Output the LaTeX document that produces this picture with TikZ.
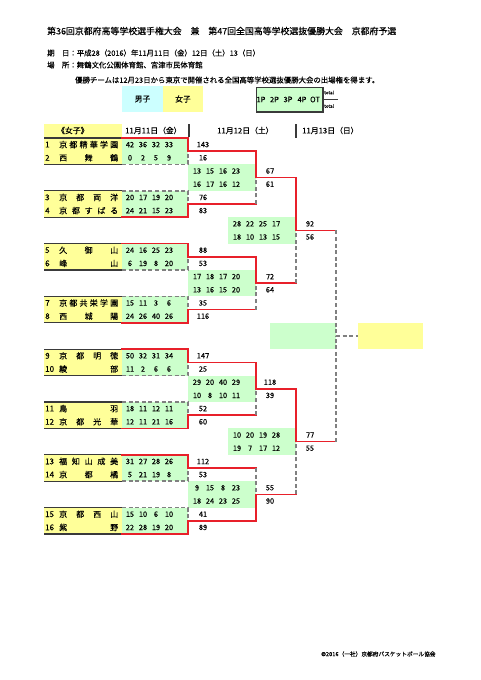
\documentclass[tikz,border=0pt]{standalone}
\usepackage{fontspec}
\setmainfont{Noto Sans CJK JP}[FakeBold=0.2]
\definecolor{ylw}{HTML}{FFFF99}
\definecolor{grn}{HTML}{CCFFCC}
\definecolor{cyn}{HTML}{CCFFFF}
\definecolor{redl}{HTML}{E8202A}
\definecolor{dsh}{HTML}{808080}
\definecolor{dark}{HTML}{3A3A3A}
\tikzset{
 win/.style={draw=redl, line width=1.7pt, line cap=rect},
 lose/.style={draw=dsh, line width=1.5pt, dash pattern=on 4pt off 2.6pt},
 sepl/.style={draw=dark, line width=1.3pt},
 num/.style={inner sep=0pt, font=\fontsize{7.4}{8}\selectfont, anchor=center},
 nm/.style={inner sep=0pt, font=\fontsize{8}{9}\selectfont, anchor=west},
 hd/.style={inner sep=0pt, font=\fontsize{7.4}{9}\selectfont, anchor=west},
 th/.style={inner sep=0pt, font=\fontsize{7.8}{9}\selectfont, anchor=west},
}
\newcounter{nd}
\newcommand\nx{\stepcounter{nd}}
\newcommand\Sc[6]{%
 \nx\node[num] (n\arabic{nd}) at ({#1+9},#2) {#3};
 \nx\node[num] (n\arabic{nd}) at ({#1+22},#2) {#4};
 \nx\node[num] (n\arabic{nd}) at ({#1+35},#2) {#5};
 \nx\node[num] (n\arabic{nd}) at ({#1+48},#2) {#6};}
\newcommand\Tot[3]{\nx\node[num] (n\arabic{nd}) at (#1,#2) {#3};}
\newcommand\Team[3]{%
 \nx\node[nm] (n\arabic{nd}) at (45,#1) {#2};
 \nx\node[nm] (n\arabic{nd}) at (59,#1) {\makebox[59pt][s]{#3}};}
\newcommand\PairBG[1]{%
 \fill[ylw] (44,#1) rectangle (122,{#1+2});
 \fill[grn] (122,#1) rectangle (188,{#1+2});
 \draw[sepl] (44,#1) -- (122,#1) (44,{#1+2}) -- (122,{#1+2});}
\newcommand\TopWin[1]{%
 \draw[lose] (122,{#1+2}) -- (188,{#1+2}) -- (188,{#1+1});
 \draw[win] (122,#1) -- (188,#1) -- (188,{#1+1}) -- (256,{#1+1});}
\newcommand\BotWin[1]{%
 \draw[lose] (122,#1) -- (188,#1) -- (188,{#1+1});
 \draw[win] (122,{#1+2}) -- (188,{#1+2}) -- (188,{#1+1}) -- (256,{#1+1});}
\begin{document}
\begin{tikzpicture}[x=1pt,y=-1pt]
\useasboundingbox[fill=white] (0,0) rectangle (480,680);
% header texts
\node[inner sep=0pt, anchor=west, font=\fontsize{8.9}{10}\selectfont] (title) at (47,31) {第36回京都府高等学校選手権大会　兼　第47回全国高等学校選抜優勝大会　京都府予選};
\node[hd] (date) at (47,53) {期　日：平成28（2016）年11月11日（金）12日（土）13（日）};
\node[hd] (place) at (47,65) {場　所：舞鶴文化公園体育館、宮津市民体育館};
\node[hd] (note) at (75,80) {優勝チームは12月23日から東京で開催される全国高等学校選抜優勝大会の出場権を得ます。};
% legend
\fill[cyn] (122,86) rectangle (163,112);
\fill[ylw] (163,86) rectangle (203,112);
\node[th, anchor=center] (boys) at (142.5,99) {男子};
\node[th, anchor=center] (girls) at (183,99) {女子};
\fill[grn] (256,87) rectangle (323,112);
\draw[dark, line width=0.5pt] (256,112) -- (256,87) -- (323,87);
\draw[dark, line width=1.2pt] (323,87) -- (323,112) -- (256,112);
\node[num] (p1) at (261,99.5) {1P};
\node[num] (p2) at (274.5,99.5) {2P};
\node[num] (p3) at (288,99.5) {3P};
\node[num] (p4) at (302,99.5) {4P};
\node[num] (ot) at (315,99.5) {OT};
\node[inner sep=0pt, font=\fontsize{4.5}{5}\selectfont, anchor=west] (tot1) at (324,92.5) {total};
\node[inner sep=0pt, font=\fontsize{4.5}{5}\selectfont, anchor=west] (tot2) at (324,106) {total};
\draw[dark, line width=0.8pt] (323,99) -- (338,99);
% table header
\fill[ylw] (44,124) rectangle (122,137.5);
\node[th] (girlshd) at (57,130.5) {《女子》};
\node[th] (d1) at (125,130.5) {11月11日（金）};
\node[th] (d2) at (217,130.5) {11月12日（土）};
\node[th] (d3) at (302,130.5) {11月13日（日）};
\draw[sepl] (189,124) -- (189,137);
\draw[sepl] (296,124) -- (296,138);
% footer
\node[inner sep=0pt, anchor=west, font=\fontsize{5.7}{7}\selectfont] (foot) at (321,654) {©2016（一社）京都府バスケットボール協会};
\begin{scope}[y=-13.2pt, yshift=-138pt]
% backgrounds
\PairBG{0}\PairBG{4}\PairBG{8}\PairBG{12}\PairBG{16}\PairBG{20}\PairBG{24}\PairBG{28}
\fill[grn] (188,2) rectangle (256,4);
\fill[grn] (188,10) rectangle (256,12);
\fill[grn] (188,18) rectangle (256,20);
\fill[grn] (188,26) rectangle (256,28);
\fill[grn] (228,6) rectangle (296,8);
\fill[grn] (228,22) rectangle (296,24);
\fill[grn] (270,14) rectangle (336,16);
\fill[ylw] (358,14) rectangle (423,16);
% round 1
\TopWin{0}\BotWin{4}\TopWin{8}\BotWin{12}\TopWin{16}\BotWin{20}\TopWin{24}\BotWin{28}
% round 2
\draw[lose] (256,5) -- (256,3);  \draw[win] (256,1) -- (256,3) -- (296,3);
\draw[lose] (256,13) -- (256,11); \draw[win] (256,9) -- (256,11) -- (296,11);
\draw[lose] (256,21) -- (256,19); \draw[win] (256,17) -- (256,19) -- (296,19);
\draw[lose] (256,25) -- (256,27); \draw[win] (256,29) -- (256,27) -- (296,27);
% round 3
\draw[lose] (296,11) -- (296,7); \draw[win] (296,3) -- (296,7) -- (336,7);
\draw[lose] (296,27) -- (296,23); \draw[win] (296,19) -- (296,23) -- (336,23);
% final
\draw[lose] (336,7) -- (336,15) -- (358,15);
\draw[lose] (336,23) -- (336,15);
% teams
\Team{0.5}{1}{京\hfill 都\hfill 精\hfill 華\hfill 学\hfill 園}
\Team{1.5}{2}{西\hfill 舞\hfill 鶴}
\Team{4.5}{3}{京\hfill 都\hfill 両\hfill 洋}
\Team{5.5}{4}{京\hfill 都\hfill す\hfill ば\hfill る}
\Team{8.5}{5}{久\hfill 御\hfill 山}
\Team{9.5}{6}{峰\hfill 山}
\Team{12.5}{7}{京\hfill 都\hfill 共\hfill 栄\hfill 学\hfill 園}
\Team{13.5}{8}{西\hfill 城\hfill 陽}
\Team{16.5}{9}{京\hfill 都\hfill 明\hfill 徳}
\Team{17.5}{10}{綾\hfill 部}
\Team{20.5}{11}{鳥\hfill 羽}
\Team{21.5}{12}{京\hfill 都\hfill 光\hfill 華}
\Team{24.5}{13}{福\hfill 知\hfill 山\hfill 成\hfill 美}
\Team{25.5}{14}{京\hfill 都\hfill 橘}
\Team{28.5}{15}{京\hfill 都\hfill 西\hfill 山}
\Team{29.5}{16}{紫\hfill 野}
% round 1 scores
\Sc{121}{0.5}{42}{36}{32}{33} \Tot{203}{0.5}{143}
\Sc{121}{1.5}{0}{2}{5}{9} \Tot{203}{1.5}{16}
\Sc{121}{4.5}{20}{17}{19}{20} \Tot{203}{4.5}{76}
\Sc{121}{5.5}{24}{21}{15}{23} \Tot{203}{5.5}{83}
\Sc{121}{8.5}{24}{16}{25}{23} \Tot{203}{8.5}{88}
\Sc{121}{9.5}{6}{19}{8}{20} \Tot{203}{9.5}{53}
\Sc{121}{12.5}{15}{11}{3}{6} \Tot{203}{12.5}{35}
\Sc{121}{13.5}{24}{26}{40}{26} \Tot{203}{13.5}{116}
\Sc{121}{16.5}{50}{32}{31}{34} \Tot{203}{16.5}{147}
\Sc{121}{17.5}{11}{2}{6}{6} \Tot{203}{17.5}{25}
\Sc{121}{20.5}{18}{11}{12}{11} \Tot{203}{20.5}{52}
\Sc{121}{21.5}{12}{11}{21}{16} \Tot{203}{21.5}{60}
\Sc{121}{24.5}{31}{27}{28}{26} \Tot{203}{24.5}{112}
\Sc{121}{25.5}{5}{21}{19}{8} \Tot{203}{25.5}{53}
\Sc{121}{28.5}{15}{10}{6}{10} \Tot{203}{28.5}{41}
\Sc{121}{29.5}{22}{28}{19}{20} \Tot{203}{29.5}{89}
% round 2 scores
\Sc{188}{2.5}{13}{15}{16}{23} \Tot{270}{2.5}{67}
\Sc{188}{3.5}{16}{17}{16}{12} \Tot{270}{3.5}{61}
\Sc{188}{10.5}{17}{18}{17}{20} \Tot{270}{10.5}{72}
\Sc{188}{11.5}{13}{16}{15}{20} \Tot{270}{11.5}{64}
\Sc{188}{18.5}{29}{20}{40}{29} \Tot{270}{18.5}{118}
\Sc{188}{19.5}{10}{8}{10}{11} \Tot{270}{19.5}{39}
\Sc{188}{26.5}{9}{15}{8}{23} \Tot{270}{26.5}{55}
\Sc{188}{27.5}{18}{24}{23}{25} \Tot{270}{27.5}{90}
% round 3 scores
\Sc{228}{6.5}{28}{22}{25}{17} \Tot{310}{6.5}{92}
\Sc{228}{7.5}{18}{10}{13}{15} \Tot{310}{7.5}{56}
\Sc{228}{22.5}{10}{20}{19}{28} \Tot{310}{22.5}{77}
\Sc{228}{23.5}{19}{7}{17}{12} \Tot{310}{23.5}{55}
\end{scope}
\end{tikzpicture}
\end{document}
